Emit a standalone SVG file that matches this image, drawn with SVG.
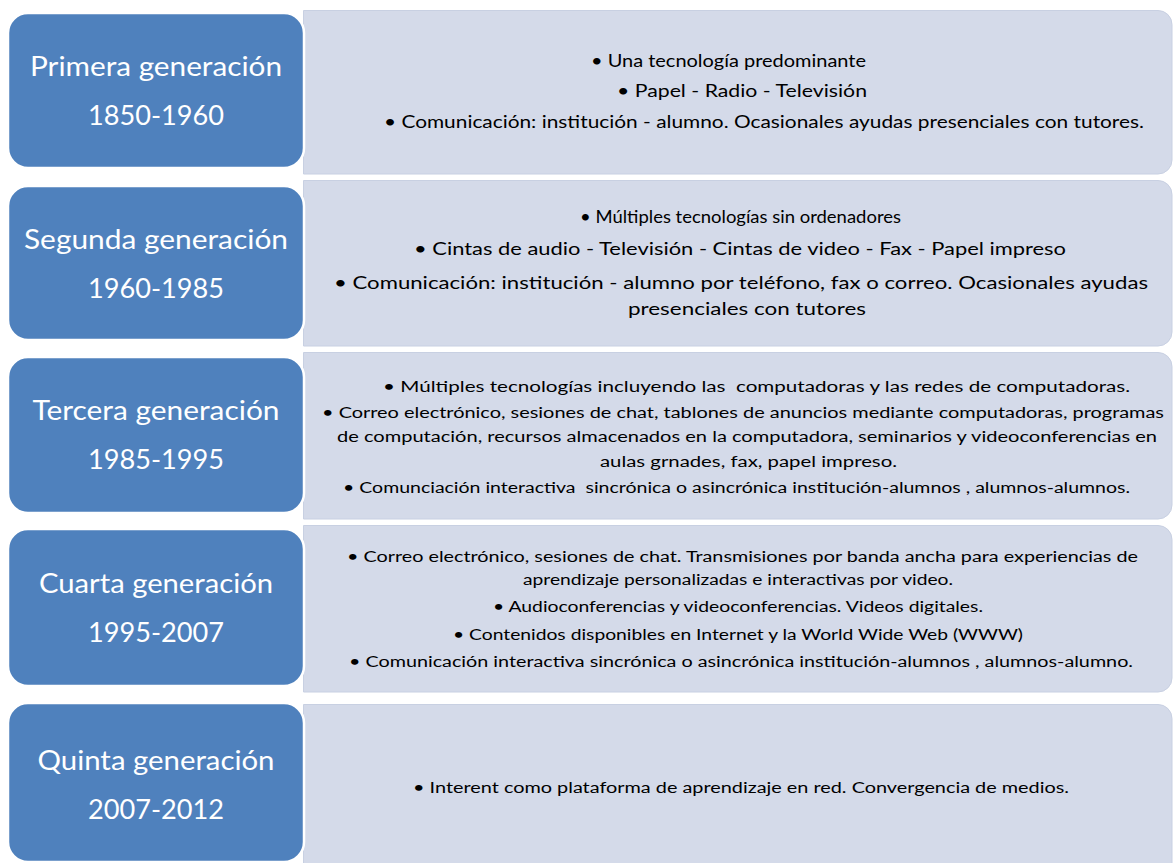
<svg xmlns="http://www.w3.org/2000/svg" width="1173" height="863" viewBox="0 0 1173 863">
<style>
.blue{fill:#4F81BD;stroke:#FFFFFF;stroke-width:2.5}
.gray{fill:#D4DAE9;stroke:#C8D0E2;stroke-width:1}
.h{font-family:Lato,"Open Sans",sans-serif;font-size:27px;fill:#FFFFFF;text-anchor:middle}
.t{font-family:Lato,"Open Sans",sans-serif;font-size:17.5px;fill:#000000;white-space:pre}
.s{font-family:Lato,"Open Sans",sans-serif;font-size:15.5px;fill:#000000;white-space:pre}
</style>
<rect width="1173" height="863" fill="#FFFFFF"/>
<g id="connectors"/>
<g id="row1">
<path class="gray" d="M303.5,10.5 H1158 A14,14 0 0 1 1172,24.5 V160 A14,14 0 0 1 1158,174 H303.5 Z"/>
<rect class="blue" x="8" y="13" width="296" height="155" rx="20"/>
<text class="h" x="156" y="76" textLength="252" lengthAdjust="spacingAndGlyphs">Primera generación</text>
<text class="h" x="156" y="125" textLength="136" lengthAdjust="spacingAndGlyphs">1850-1960</text>
<text class="t" x="591" y="67" textLength="275" lengthAdjust="spacingAndGlyphs">• Una tecnología predominante</text>
<text class="t" x="617" y="97" textLength="250" lengthAdjust="spacingAndGlyphs">• Papel - Radio - Televisión</text>
<text class="t" x="384" y="128" textLength="760" lengthAdjust="spacingAndGlyphs">• Comunicación: institución - alumno. Ocasionales ayudas presenciales con tutores.</text>
</g>
<g id="row2">
<path class="gray" d="M303.5,180.5 H1158 A14,14 0 0 1 1172,194.5 V332 A14,14 0 0 1 1158,346 H303.5 Z"/>
<rect class="blue" x="8" y="186" width="296" height="154" rx="20"/>
<text class="h" x="156" y="249" textLength="264" lengthAdjust="spacingAndGlyphs">Segunda generación</text>
<text class="h" x="156" y="298" textLength="136" lengthAdjust="spacingAndGlyphs">1960-1985</text>
<text class="t" x="580" y="223" textLength="321" lengthAdjust="spacingAndGlyphs">• Múltiples tecnologías sin ordenadores</text>
<text class="t" x="414" y="255" textLength="652" lengthAdjust="spacingAndGlyphs">• Cintas de audio - Televisión - Cintas de video - Fax - Papel impreso</text>
<text class="t" x="334" y="289" textLength="814" lengthAdjust="spacingAndGlyphs">• Comunicación: institución - alumno por teléfono, fax o correo. Ocasionales ayudas</text>
<text class="t" x="628" y="315" textLength="238" lengthAdjust="spacingAndGlyphs">presenciales con tutores</text>
</g>
<g id="row3">
<path class="gray" d="M303.5,352.5 H1158 A14,14 0 0 1 1172,366.5 V505 A14,14 0 0 1 1158,519 H303.5 Z"/>
<rect class="blue" x="8" y="357" width="296" height="156" rx="20"/>
<text class="h" x="156" y="420" textLength="247" lengthAdjust="spacingAndGlyphs">Tercera generación</text>
<text class="h" x="156" y="469" textLength="136" lengthAdjust="spacingAndGlyphs">1985-1995</text>
<text class="s" x="383" y="392" textLength="747" lengthAdjust="spacingAndGlyphs">• Múltiples tecnologías incluyendo las  computadoras y las redes de computadoras.</text>
<text class="s" x="322" y="418" textLength="842" lengthAdjust="spacingAndGlyphs">• Correo electrónico, sesiones de chat, tablones de anuncios mediante computadoras, programas</text>
<text class="s" x="337" y="442" textLength="820" lengthAdjust="spacingAndGlyphs">de computación, recursos almacenados en la computadora, seminarios y videoconferencias en</text>
<text class="s" x="600" y="467" textLength="297" lengthAdjust="spacingAndGlyphs">aulas grnades, fax, papel impreso.</text>
<text class="s" x="343" y="493" textLength="787" lengthAdjust="spacingAndGlyphs">• Comunciación interactiva  sincrónica o asincrónica institución-alumnos , alumnos-alumnos.</text>
</g>
<g id="row4">
<path class="gray" d="M303.5,525.5 H1158 A14,14 0 0 1 1172,539.5 V678 A14,14 0 0 1 1158,692 H303.5 Z"/>
<rect class="blue" x="8" y="529" width="296" height="157" rx="20"/>
<text class="h" x="156" y="593" textLength="234" lengthAdjust="spacingAndGlyphs">Cuarta generación</text>
<text class="h" x="156" y="642" textLength="136" lengthAdjust="spacingAndGlyphs">1995-2007</text>
<text class="s" x="347" y="562" textLength="791" lengthAdjust="spacingAndGlyphs">• Correo electrónico, sesiones de chat. Transmisiones por banda ancha para experiencias de</text>
<text class="s" x="523" y="585" textLength="430" lengthAdjust="spacingAndGlyphs">aprendizaje personalizadas e interactivas por video.</text>
<text class="s" x="493" y="612" textLength="490" lengthAdjust="spacingAndGlyphs">• Audioconferencias y videoconferencias. Videos digitales.</text>
<text class="s" x="453" y="640" textLength="570" lengthAdjust="spacingAndGlyphs">• Contenidos disponibles en Internet y la World Wide Web (WWW)</text>
<text class="s" x="349" y="667" textLength="784" lengthAdjust="spacingAndGlyphs">• Comunicación interactiva sincrónica o asincrónica institución-alumnos , alumnos-alumno.</text>
</g>
<g id="row5">
<path class="gray" d="M303.5,704.5 H1158 A14,14 0 0 1 1172,718.5 V870 H303.5 Z"/>
<rect class="blue" x="8" y="703" width="296" height="159" rx="20"/>
<text class="h" x="156" y="770" textLength="237" lengthAdjust="spacingAndGlyphs">Quinta generación</text>
<text class="h" x="156" y="819" textLength="136" lengthAdjust="spacingAndGlyphs">2007-2012</text>
<text class="s" x="413" y="793" textLength="656" lengthAdjust="spacingAndGlyphs">• Interent como plataforma de aprendizaje en red. Convergencia de medios.</text>
</g>
</svg>
